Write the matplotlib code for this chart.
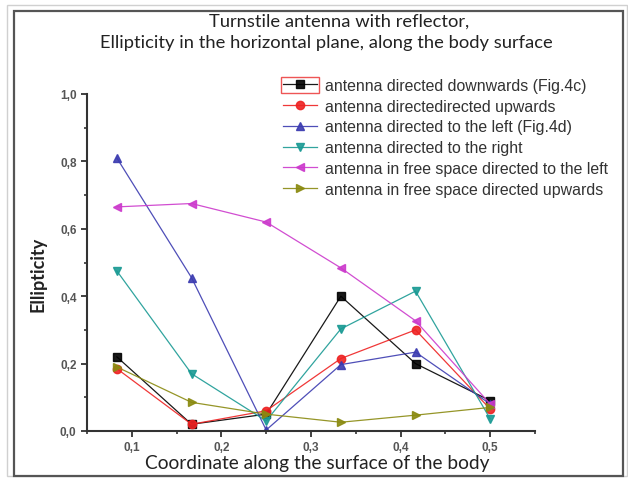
import matplotlib
matplotlib.use('Agg')
import matplotlib.pyplot as plt
from matplotlib.patches import Rectangle
from matplotlib.ticker import MultipleLocator, FuncFormatter

# coordinate along the body surface (1/12 steps)
x = [1 / 12, 2 / 12, 3 / 12, 4 / 12, 5 / 12, 6 / 12]

down = [0.22, 0.02, 0.05, 0.40, 0.20, 0.09]
up = [0.185, 0.02, 0.06, 0.215, 0.30, 0.065]
left = [0.81, 0.455, 0.003, 0.197, 0.234, 0.08]
right = [0.475, 0.17, 0.03, 0.303, 0.415, 0.036]
free_left = [0.665, 0.675, 0.62, 0.484, 0.327, 0.08]
free_up = [0.19, 0.085, 0.05, 0.026, 0.047, 0.07]

labels = ['antenna directed downwards (Fig.4c)',
          'antenna directedirected upwards',
          'antenna directed to the left (Fig.4d)',
          'antenna directed to the right',
          'antenna in free space directed to the left',
          'antenna in free space directed upwards']

W, H = 628, 481
fig = plt.figure(figsize=(W / 100, H / 100), dpi=100)

def fx(px):
    return px / W

def fy(py):
    return 1 - py / H

# outer frames of the screenshot
fig.patches.append(Rectangle((fx(7), fy(477)), fx(627) - fx(7), fy(6) - fy(477),
                             transform=fig.transFigure, fill=False, ec='#d0d0d0', lw=1))
fig.patches.append(Rectangle((fx(14), fy(477)), fx(623) - fx(14), fy(12) - fy(477),
                             transform=fig.transFigure, fill=False, ec='#555555', lw=1.6))

ax = fig.add_axes([fx(87), fy(432), fx(535) - fx(87), fy(95) - fy(432)])

series = [
    (down, 's', 'black'),
    (up, 'o', '#ee2222'),
    (left, '^', '#3b3bb0'),
    (right, 'v', '#1a9a94'),
    (free_left, '<', '#cc3acc'),
    (free_up, '>', '#8a8a10'),
]
for (vals, m, c), lab in zip(series, labels):
    ax.plot(x, vals, marker=m, color=c, lw=0.9, ms=6, label=lab, alpha=0.9)

ax.set_xlim(0.05, 0.55)
ax.set_ylim(0, 1.0)
ax.xaxis.set_major_locator(MultipleLocator(0.1))
ax.xaxis.set_minor_locator(MultipleLocator(0.05))
ax.yaxis.set_major_locator(MultipleLocator(0.2))
ax.yaxis.set_minor_locator(MultipleLocator(0.1))
ax.xaxis.set_major_formatter(FuncFormatter(lambda v, p: f'{v:.1f}'.replace('.', ',')))
ax.yaxis.set_major_formatter(FuncFormatter(lambda v, p: f'{v:.1f}'.replace('.', ',')))

for s in ['top', 'right']:
    ax.spines[s].set_visible(False)
for s in ['left', 'bottom']:
    ax.spines[s].set_color('#333333')
    ax.spines[s].set_linewidth(1.5)
ax.tick_params(which='major', direction='out', length=4, width=1.3, color='#333333',
               labelsize=8.5, labelcolor='#555555')
ax.tick_params(which='minor', direction='out', length=2.5, width=1.2, color='#333333')
for t in ax.get_xticklabels() + ax.get_yticklabels():
    t.set_fontweight('bold')
    t.set_family('Liberation Sans')

fig.text(fx(339), fy(22), 'Turnstile antenna with reflector,', ha='center', va='center',
         fontsize=13.2, family='Lato', color='#222222')
fig.text(fx(326), fy(43), 'Ellipticity in the horizontal plane, along the body surface',
         ha='center', va='center', fontsize=13.2, family='Lato', color='#222222')
fig.text(fx(317), fy(464), 'Coordinate along the surface of the body', ha='center', va='center',
         fontsize=13.8, family='Lato', color='#222222')
fig.text(fx(38), fy(274), 'Ellipticity', ha='center', va='center', rotation=90,
         fontsize=13, family='Lato', fontweight='bold', color='#222222')

leg = ax.legend(loc='upper left', bbox_to_anchor=(fx(283), fy(79)), bbox_transform=fig.transFigure,
                frameon=False, prop={'family': 'Liberation Sans', 'size': 11.4},
                handlelength=2.15, handletextpad=0.5, labelspacing=0.36, borderpad=0,
                borderaxespad=0)
for t in leg.get_texts():
    t.set_color('#333333')

fig.patches.append(Rectangle((fx(281), fy(94)), fx(319) - fx(281), fy(78) - fy(94),
                             transform=fig.transFigure, fill=False, ec='#ee5555', lw=1))

fig.savefig('out.png', dpi=100)
